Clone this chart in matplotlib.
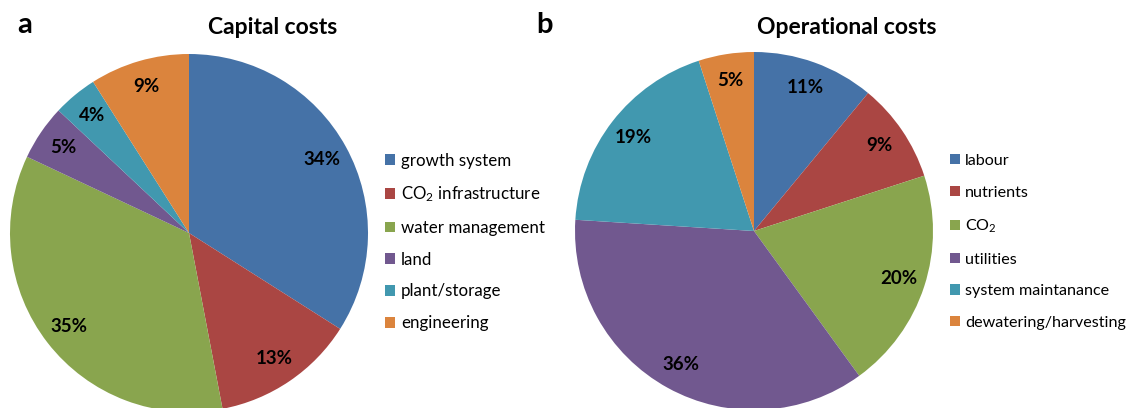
import matplotlib
matplotlib.use("Agg")
import matplotlib.pyplot as plt
from matplotlib.patches import Patch

plt.rcParams['font.family'] = ['Lato', 'DejaVu Sans']
plt.rcParams['mathtext.default'] = 'regular'

# data
capital_labels = ['growth system', 'CO$_2$ infrastructure', 'water management',
                  'land', 'plant/storage', 'engineering']
capital_values = [34, 13, 35, 5, 4, 9]
operational_labels = ['labour', 'nutrients', 'CO$_2$', 'utilities',
                      'system maintanance', 'dewatering/harvesting']
operational_values = [11, 9, 20, 36, 19, 5]

colors = ['#4572A7', '#AA4643', '#89A54E', '#71588F', '#4198AF', '#DB843D']

W, H = 1134, 408
fig = plt.figure(figsize=(W / 100, H / 100), dpi=100)


def draw_pie(cx, cy, r, values, labels, legend_x, legend_fs, spacing,
             title, title_x, letter, letter_x):
    ax = fig.add_axes([(cx - r) / W, (H - cy - r) / H, 2 * r / W, 2 * r / H])
    ax.pie(values, colors=colors, startangle=90, counterclock=False,
           autopct='%d%%', pctdistance=0.85, wedgeprops=dict(linewidth=0),
           textprops=dict(fontsize=13.5, fontweight='bold', color='black'))
    ax.set_xlim(-1, 1)
    ax.set_ylim(-1, 1)
    ax.set_aspect('auto')
    ax.axis('off')
    handles = [Patch(facecolor=c, edgecolor='none') for c in colors]
    fig.legend(handles, labels, loc='center left', bbox_to_anchor=(legend_x / W, 1 - 242 / H),
               frameon=False, fontsize=legend_fs, labelspacing=spacing,
               handlelength=0.6, handleheight=0.6, handletextpad=0.35,
               borderaxespad=0, borderpad=0)
    fig.text(title_x / W, 1 - 28 / H, title, ha='center', va='center',
             fontsize=16.5, fontweight='bold')
    fig.text(letter_x / W, 1 - 25 / H, letter, ha='center', va='center',
             fontsize=21, fontweight='bold')


draw_pie(189, 233, 179, capital_values, capital_labels, 385, 12.2, 0.93,
         'Capital costs', 273, 'a', 25)
draw_pie(754, 231, 179, operational_values, operational_labels, 950, 11.6, 1.1,
         'Operational costs', 847, 'b', 545)

fig.savefig('out.png', dpi=100)
